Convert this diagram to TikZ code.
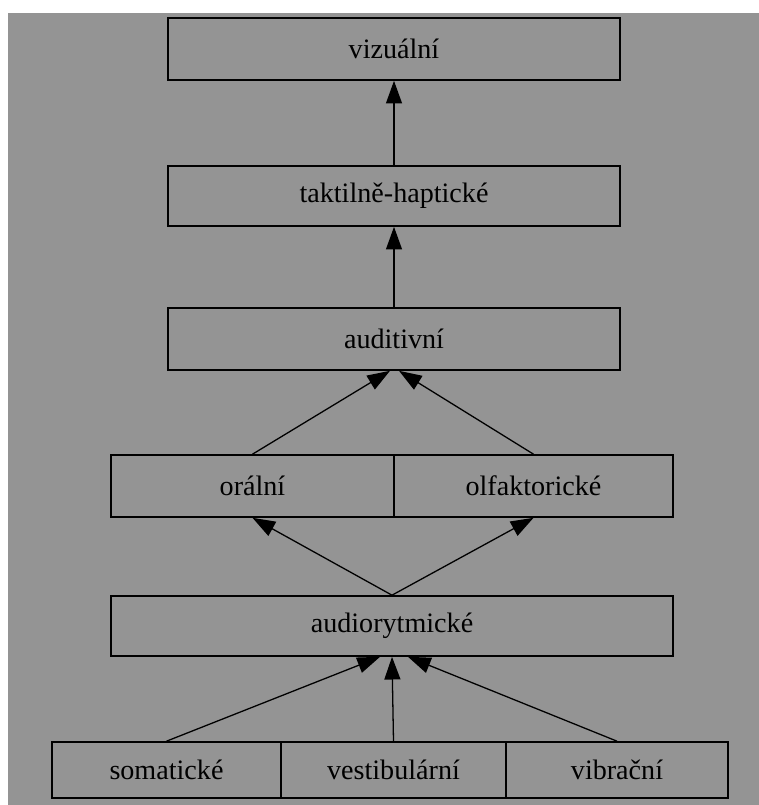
\documentclass[tikz,border=0pt]{standalone}
\usepackage{fontspec}
\setmainfont{Liberation Serif}
\usetikzlibrary{arrows.meta,calc}

\begin{document}
\begin{tikzpicture}[
            x=0.03cm, y=-0.03cm,
            level/.style={draw, line width=1.4pt, inner sep=0pt, minimum height=1.86cm,
                font=\fontsize{24}{28}\selectfont},
            basebox/.style={level, minimum height=1.68cm},
            arr/.style={-{Triangle[length=0.68cm, width=0.48cm]}, line width=1.1pt},
        ]

        % Background
        \fill[white] (0,0) rectangle (759,805);
        \fill[black!42] (8,13) rectangle (759,805);

        % Upper levels
        \node[level, minimum width=13.56cm] (viz) at (394,49) {vizuální};
        \node[level, minimum width=13.56cm, minimum height=1.8cm] (tak) at (394,196) {taktilně-haptické};
        \node[level, minimum width=13.56cm] (aud) at (394,339) {auditivní};

        % Middle level
        \node[level, minimum width=8.49cm] (oral) at (252.5,486) {orální};
        \node[level, minimum width=8.37cm] (olf) at (533.5,486) {olfaktorické};
        \node[level, minimum width=16.86cm, minimum height=1.8cm] (rytm) at (392,626) {audiorytmické};

        % Base level
        \foreach \name/\txt/\x/\w in {som/somatické/166.5/6.87, ves/vestibulární/393.5/6.75, vib/vibrační/617/6.66}
        \node[basebox, minimum width=\w cm] (\name) at (\x,770) {\txt};

        % Connect base level with audiorytmické
        \foreach \name/\s in {som/-12, ves/0, vib/16}
        \draw[arr] (\name.north) -- ($(rytm.south)+(\s,0)$);

        % Connect audiorytmické with middle level
        \draw[arr] (rytm.north) -- (oral.south);
        \draw[arr] (rytm.north) -- (olf.south);

        % Connect middle level with auditivní
        \draw[arr] (oral.north) -- ($(aud.south)+(-4,0)$);
        \draw[arr] (olf.north) -- ($(aud.south)+(5,0)$);

        % Upper chain
        \draw[arr] (aud) -- (tak);
        \draw[arr] (tak) -- (viz);

    \end{tikzpicture}
\end{document}
